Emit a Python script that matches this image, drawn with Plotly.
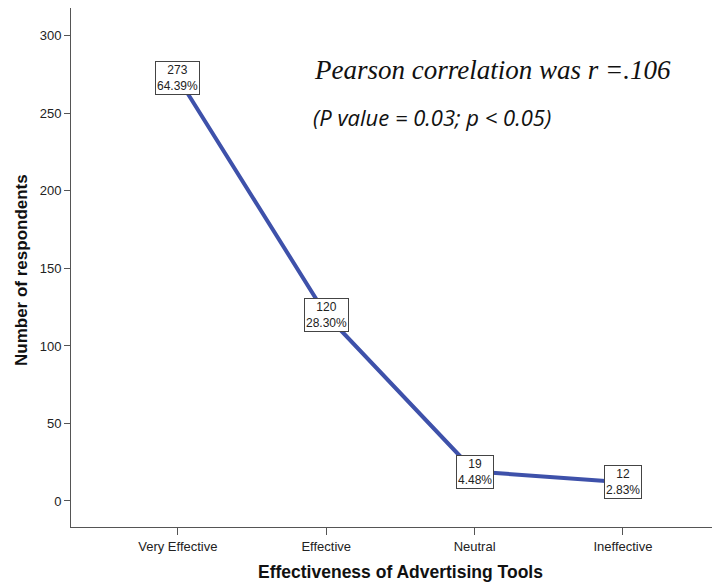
import plotly.graph_objects as go

categories = ["Very Effective", "Effective", "Neutral", "Ineffective"]
counts = [273, 120, 19, 12]
percents = ["64.39%", "28.30%", "4.48%", "2.83%"]
y_ticks = [0, 50, 100, 150, 200, 250, 300]

# page body has ~8px default margin; figure drawn at (8, 8)
OFF = 8
W, H = 720 - OFF, 585 - OFF
l, r, t, b = 71 - OFF, 8, 8 - OFF, 58
pw, ph = W - l - r, H - t - b

def px(x):  # page pixel -> paper
    return (x - OFF - l) / pw

def py(y):
    return 1 - (y - OFF - t) / ph

fig = go.Figure()
fig.add_trace(go.Scatter(
    x=list(range(len(categories))), y=counts, mode="lines",
    line=dict(color="rgb(62,81,170)", width=4), hoverinfo="skip", showlegend=False))

for i, (c, p) in enumerate(zip(counts, percents)):
    fig.add_annotation(x=i, y=c, xref="x", yref="y", text=f"{c}<br>{p}",
                       showarrow=False, bgcolor="white", bordercolor="#444",
                       borderwidth=1, borderpad=1,
                       font=dict(family="Liberation Sans, Arial", size=12, color="#222"))

fig.add_annotation(x=px(312), y=py(70), xref="paper", yref="paper",
                   text="<i>Pearson correlation was r =.106</i>",
                   showarrow=False, xanchor="left", yanchor="middle",
                   font=dict(family="Liberation Serif, Times New Roman", size=27, color="#111"))
fig.add_annotation(x=px(311), y=py(117), xref="paper", yref="paper",
                   text="<i>(P value = 0.03; p < 0.05)</i>",
                   showarrow=False, xanchor="left", yanchor="middle",
                   font=dict(family="Open Sans, Calibri", size=22, color="#111"))
fig.add_annotation(x=px(400), y=py(572), xref="paper", yref="paper",
                   text="<b>Effectiveness of Advertising Tools</b>",
                   showarrow=False, xanchor="center", yanchor="middle",
                   font=dict(family="Liberation Sans, Arial", size=17.5, color="#111"))
fig.add_annotation(x=px(21), y=py(270), xref="paper", yref="paper",
                   text="<b>Number of respondents</b>", textangle=-90,
                   showarrow=False, xanchor="center", yanchor="middle",
                   font=dict(family="Liberation Sans, Arial", size=17, color="#111"))

fig.update_layout(
    width=W, height=H, margin=dict(l=l, r=r, t=t, b=b, autoexpand=False),
    paper_bgcolor="white", plot_bgcolor="white",
    font=dict(family="Liberation Sans, Arial", size=12, color="#222"),
    xaxis=dict(tickmode="array", tickvals=list(range(len(categories))), ticktext=categories,
               range=[-0.72, 3.6], showgrid=False, zeroline=False, showline=True,
               linecolor="#555", linewidth=1, ticks="outside", ticklen=7, tickcolor="#555",
               tickfont=dict(size=13), automargin=False),
    yaxis=dict(tickvals=y_ticks, range=[-16.8, 318], showgrid=False, zeroline=False, showline=True,
               linecolor="#555", linewidth=1, ticks="outside", ticklen=6, tickcolor="#555",
               tickfont=dict(size=13), automargin=False),
)

fig.write_html("out.html")
